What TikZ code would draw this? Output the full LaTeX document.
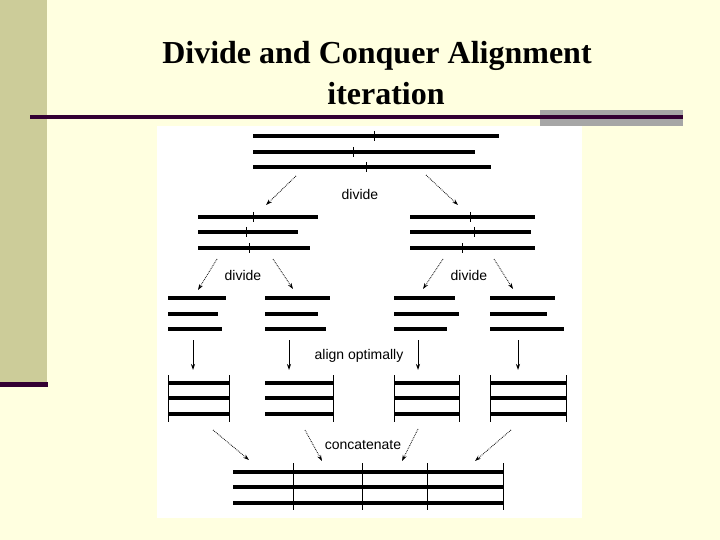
\documentclass[tikz,border=0pt]{standalone}
\usepackage{fontspec}
\setmainfont{Liberation Serif}
\newfontfamily\lblfont{Liberation Sans}
\usetikzlibrary{arrows.meta}
\definecolor{bgyel}{RGB}{255,255,224}
\definecolor{band}{RGB}{204,204,153}
\definecolor{dpurp}{RGB}{51,0,51}
\definecolor{gbar}{RGB}{166,166,166}
\tikzset{
  seq/.style={line width=3.4pt},
  tick/.style={line width=1pt},
  sbar/.style={line width=0.9pt},
  dotarrow/.style={line width=0.8pt, densely dotted, -{Stealth[length=6pt,width=4pt]}},
  solarrow/.style={line width=0.8pt, -{Stealth[length=6pt,width=4pt]}},
  lbl/.style={font=\lblfont\fontsize{14}{16}\selectfont, inner sep=1pt},
  ttl/.style={font=\bfseries\fontsize{32}{36}\selectfont, inner sep=0pt}
}
\begin{document}
\begin{tikzpicture}[x=1pt,y=-1pt]
\useasboundingbox (0,0) rectangle (720,540);
\fill[bgyel] (0,0) rectangle (720,540);
\fill[band] (0,0) rectangle (47,382);
\fill[dpurp] (0,382) rectangle (48,387);
\fill[gbar] (540,110) rectangle (683,126);
\draw[dpurp, line width=3.5pt] (30,117) -- (683,117);
\node[ttl] (t1) at (377,56) {Divide and Conquer Alignment};
\node[ttl] (t2) at (386,94) {iteration};
\fill[white] (157,126) rectangle (582,518);

% level 1
\draw[seq] (253,136) -- (499,136);
\draw[seq] (253,152) -- (475,152);
\draw[seq] (253,167) -- (491,167);
\draw[tick] (374,131) -- (374,141);
\draw[tick] (353,147) -- (353,157);
\draw[tick] (366,162) -- (366,172);

\node[lbl] (d1) at (360,194) {divide};
\coordinate (a1s) at (296,176); \coordinate (a1e) at (266,205);
\coordinate (a2s) at (426,175); \coordinate (a2e) at (458,205);
\draw[dotarrow] (a1s) -- (a1e);
\draw[dotarrow] (a2s) -- (a2e);

% level 2
\draw[seq] (198,217) -- (318,217);
\draw[seq] (198,232) -- (298,232);
\draw[seq] (198,248) -- (310,248);
\draw[tick] (253,212) -- (253,222);
\draw[tick] (246,227) -- (246,237);
\draw[tick] (249,243) -- (249,253);
\draw[seq] (410,217) -- (535,217);
\draw[seq] (410,232) -- (531,232);
\draw[seq] (410,248) -- (535,248);
\draw[tick] (470,212) -- (470,222);
\draw[tick] (474,227) -- (474,237);
\draw[tick] (462,243) -- (462,253);

\node[lbl] (d2) at (243,275) {divide};
\node[lbl] (d3) at (469,275) {divide};
\coordinate (b1s) at (217,259); \coordinate (b1e) at (198,290);
\coordinate (b2s) at (273,259); \coordinate (b2e) at (293,289);
\coordinate (b3s) at (443,259); \coordinate (b3e) at (423,289);
\coordinate (b4s) at (494,259); \coordinate (b4e) at (513,289);
\draw[dotarrow] (b1s) -- (b1e);
\draw[dotarrow] (b2s) -- (b2e);
\draw[dotarrow] (b3s) -- (b3e);
\draw[dotarrow] (b4s) -- (b4e);

% level 3
\draw[seq] (168,298) -- (226,298);
\draw[seq] (168,314) -- (218,314);
\draw[seq] (168,329) -- (222,329);
\draw[seq] (265,298) -- (330,298);
\draw[seq] (265,314) -- (318,314);
\draw[seq] (265,329) -- (326,329);
\draw[seq] (394,298) -- (455,298);
\draw[seq] (394,314) -- (459,314);
\draw[seq] (394,329) -- (447,329);
\draw[seq] (490,298) -- (555,298);
\draw[seq] (490,314) -- (547,314);
\draw[seq] (490,329) -- (564,329);

\node[lbl] (al) at (359,356) {align optimally};
\foreach \xx/\nn in {193/c1,289/c2,418/c3,518/c4}{
  \coordinate (\nn s) at (\xx,340); \coordinate (\nn e) at (\xx,370);
  \draw[solarrow] (\nn s) -- (\nn e);
}

% level 4
\foreach \yy in {383,398,414}{
  \draw[seq] (168,\yy) -- (229,\yy);
  \draw[seq] (265,\yy) -- (333,\yy);
  \draw[seq] (394,\yy) -- (459,\yy);
  \draw[seq] (490,\yy) -- (566,\yy);
}
\foreach \xx in {168,229,333,394,459,490,566}{
  \draw[sbar] (\xx,375) -- (\xx,422);
}

\node[lbl] (cc) at (363,445) {concatenate};
\coordinate (e1s) at (213,430); \coordinate (e1e) at (249,460);
\coordinate (e2s) at (305,430); \coordinate (e2e) at (322,461);
\coordinate (e3s) at (418,429); \coordinate (e3e) at (402,461);
\coordinate (e4s) at (511,430); \coordinate (e4e) at (475,461);
\draw[dotarrow] (e1s) -- (e1e);
\draw[dotarrow] (e2s) -- (e2e);
\draw[dotarrow] (e3s) -- (e3e);
\draw[dotarrow] (e4s) -- (e4e);

% level 5
\foreach \yy in {472,487,503}{
  \draw[seq] (233,\yy) -- (503,\yy);
}
\foreach \xx in {293,362,427,503}{
  \draw[sbar] (\xx,463) -- (\xx,510);
}
\end{tikzpicture}
\end{document}
